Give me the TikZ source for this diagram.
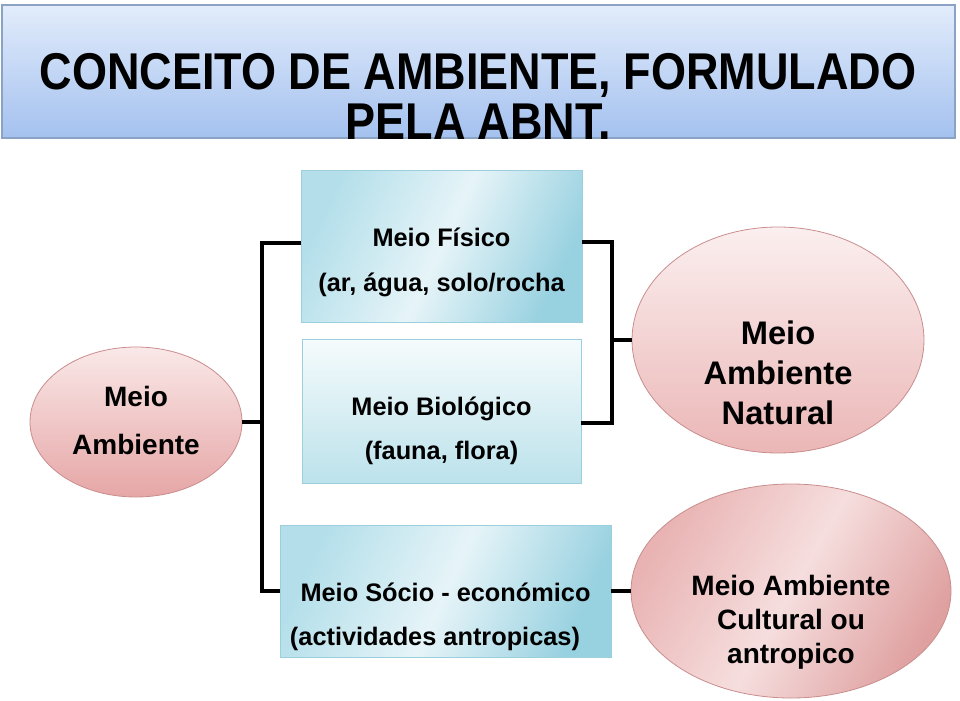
\documentclass[tikz,border=0pt]{standalone}
\usepackage{fontspec}
\setmainfont{Liberation Sans}
\newfontfamily\titlefont{Liberation Sans}[FakeStretch=0.87]
\usetikzlibrary{shapes.geometric,calc}
\definecolor{titletop}{HTML}{E2ECFB}
\definecolor{titlebot}{HTML}{A4C1EF}
\definecolor{titleedge}{HTML}{8AA2C4}
\definecolor{boxedge}{HTML}{9CCFDD}
\definecolor{blueA}{HTML}{B4DFEA}
\definecolor{blueB}{HTML}{E6F4F8}
\definecolor{blueC}{HTML}{98D1E0}
\definecolor{bioTop}{HTML}{F5FBFC}
\definecolor{bioBot}{HTML}{BCE2EB}
\definecolor{pinkTop}{HTML}{FAE8E8}
\definecolor{pinkBot}{HTML}{E6A6A6}
\definecolor{pinkMid}{HTML}{F6DEDE}
\definecolor{pinkL}{HTML}{E9B3B3}
\definecolor{pinkR}{HTML}{DFA0A0}
\definecolor{pinkEdge}{HTML}{C98D8D}
\tikzset{
  conn/.style={line width=3pt, black},
  bluebox/.style={rectangle, draw=boxedge, line width=0.6pt, inner sep=0pt},
  oval/.style={ellipse, draw=pinkEdge, line width=0.6pt, inner sep=0pt},
  txt/.style={anchor=base, inner sep=0pt, font=\bfseries\fontsize{19}{22}\selectfont},
  diagblue/.style={shading=axis, left color=blueA, right color=blueC, middle color=blueB, shading angle=65},
}
\begin{document}
\begin{tikzpicture}[x=0.75pt, y=-0.75pt]
\useasboundingbox (0,0) rectangle (960,700);
% title
\node[rectangle, draw=titleedge, line width=0.8pt, top color=titletop, bottom color=titlebot,
      minimum width=714.75pt, minimum height=99.75pt, inner sep=0pt] (title) at (478.5,71.5) {};
\node[anchor=base, inner sep=0pt, font=\titlefont\bfseries\fontsize{38.8}{40}\selectfont] (t1) at (478,89) {CONCEITO DE AMBIENTE, FORMULADO};
\node[anchor=base, inner sep=0pt, font=\titlefont\bfseries\fontsize{38.8}{40}\selectfont] (t2) at (478,139) {PELA ABNT.};
% boxes
\node[bluebox, minimum width=210.75pt, minimum height=114pt, diagblue] (fis) at (441.5,246) {};
\node[bluebox, minimum width=209.25pt, minimum height=108pt,
      top color=bioTop, bottom color=bioBot] (bio) at (441.5,411) {};
\node[bluebox, minimum width=248.25pt, minimum height=99pt, diagblue] (soc) at (445.5,591) {};
% ellipses
\node[oval, minimum width=159pt, minimum height=112.5pt, top color=pinkTop, bottom color=pinkBot] (amb) at (136,422) {};
\node[oval, minimum width=219pt, minimum height=169.5pt, top color=pinkTop!70!white, bottom color=pinkBot!75!pinkTop] (nat) at (778,340) {};
\node[oval, minimum width=240pt, minimum height=160.5pt,
      shading=axis, left color=pinkL, right color=pinkR, middle color=pinkMid, shading angle=60] (cul) at (791,591) {};
% connectors
\coordinate (trunk) at (262,422);
\coordinate (rb) at (612,340);
\draw[conn] (amb.east) -- (trunk);
\draw[conn] ([yshift=2pt]fis.west) -| (trunk) |- (soc.west);
\draw[conn] ([yshift=3pt]fis.east) -| (rb) |- ([yshift=-9pt]bio.east);
\draw[conn] (rb) -- (nat.west);
\draw[conn] (soc.east) -- (cul.west);
% texts
\node[txt] (fis1) at (441.5,246) {Meio Físico};
\node[txt] (fis2) at (441.5,291) {(ar, água, solo/rocha};
\node[txt] (bio1) at (441.5,415) {Meio Biológico};
\node[txt] (bio2) at (441.5,459) {(fauna, flora)};
\node[txt] (soc1) at (445.5,601) {Meio Sócio - económico};
\node[txt] (soc2) at (435,645) {(actividades antropicas)};
\node[txt, font=\bfseries\fontsize{21}{24}\selectfont] (amb1) at (136,406) {Meio};
\node[txt, font=\bfseries\fontsize{21}{24}\selectfont] (amb2) at (136,454) {Ambiente};
\node[txt, font=\bfseries\fontsize{24.5}{28}\selectfont] (nat1) at (778,344) {Meio};
\node[txt, font=\bfseries\fontsize{24.5}{28}\selectfont] (nat2) at (778,384) {Ambiente};
\node[txt, font=\bfseries\fontsize{24.5}{28}\selectfont] (nat3) at (778,424) {Natural};
\node[txt, font=\bfseries\fontsize{21}{24}\selectfont] (cul1) at (791,595) {Meio Ambiente};
\node[txt, font=\bfseries\fontsize{21}{24}\selectfont] (cul2) at (791,629) {Cultural ou};
\node[txt, font=\bfseries\fontsize{21}{24}\selectfont] (cul3) at (791,663) {antropico};
\end{tikzpicture}
\end{document}
